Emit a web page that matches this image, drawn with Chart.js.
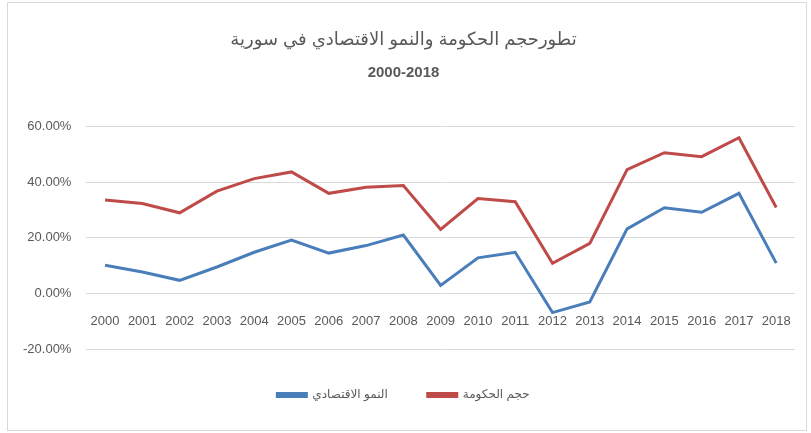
<!DOCTYPE html>
<html>
<head>
<meta charset="utf-8">
<script src="https://cdn.jsdelivr.net/npm/chart.js@4.4.0/dist/chart.umd.min.js"></script>
<style>
  body { margin: 0; background: #fff; }
  #frame { position: absolute; left: 7px; top: 2px; width: 798px; height: 427px; border: 1px solid #d9d9d9; }
  #wrap { position: absolute; left: 0; top: 0; width: 811px; height: 433px; }
</style>
</head>
<body>
<div id="frame"></div>
<div id="wrap"><canvas id="chart"></canvas></div>
<script>
// years on the category axis
const years = ['2000', '2001', '2002', '2003', '2004', '2005', '2006', '2007', '2008', '2009',
  '2010', '2011', '2012', '2013', '2014', '2015', '2016', '2017', '2018'];

// values, in percent
const growth = [10.1, 7.7, 4.7, 9.5, 14.8, 19.2, 14.5, 17.2, 21.0, 2.9,
  12.8, 14.8, -6.9, -3.1, 23.2, 30.8, 29.2, 36.0, 10.9];
const govSize = [33.6, 32.3, 29.0, 36.8, 41.3, 43.7, 36.0, 38.2, 38.8, 23.0,
  34.1, 33.0, 10.8, 18.0, 44.5, 50.6, 49.2, 56.0, 30.9];

const yTicks = [-20, 0, 20, 40, 60];

const titleText = 'تطورحجم الحكومة والنمو الاقتصادي في سورية';
const subtitleText = '2000-2018';
const growthLabel = 'النمو الاقتصادي';
const govLabel = 'حجم الحكومة';

const baseFont = "'Liberation Sans', 'DejaVu Sans', sans-serif";
const grey = '#595959';

document.addEventListener('DOMContentLoaded', () => {
  const ctx = document.getElementById('chart').getContext('2d');

  new Chart(ctx, {
    type: 'line',
    data: {
      labels: years,
      datasets: [{
        label: growthLabel,
        data: growth,
        borderColor: '#4a7ebb',
        backgroundColor: '#4a7ebb',
        borderWidth: 3,
        pointRadius: 0,
        tension: 0
      }, {
        label: govLabel,
        data: govSize,
        borderColor: '#be4b48',
        backgroundColor: '#be4b48',
        borderWidth: 3,
        pointRadius: 0,
        tension: 0
      }]
    },
    options: {
      responsive: true,
      maintainAspectRatio: false,
      animation: false,
      layout: { padding: { left: 8, right: 12, top: 0, bottom: 22 } },
      scales: {
        x: {
          position: { y: 0 },
          offset: true,
          grid: { display: false, drawTicks: false },
          border: { display: true, color: '#d9d9d9', width: 1 },
          ticks: {
            color: grey,
            font: { family: baseFont, size: 13 },
            padding: 20,
            maxRotation: 0,
            autoSkip: false
          }
        },
        y: {
          min: -20,
          max: 60,
          afterBuildTicks: (axis) => {
            axis.ticks = yTicks.map(v => ({ value: v }));
          },
          grid: { color: '#d9d9d9', drawTicks: false },
          border: { display: false },
          ticks: {
            color: grey,
            font: { family: baseFont, size: 13 },
            padding: 15,
            callback: (v) => v.toFixed(2) + '%'
          }
        }
      },
      plugins: {
        title: {
          display: true,
          text: titleText,
          color: grey,
          font: { family: baseFont, size: 18, weight: 'normal' },
          padding: { top: 29, bottom: 5 }
        },
        subtitle: {
          display: true,
          text: subtitleText,
          color: grey,
          font: { family: baseFont, size: 15, weight: 'bold' },
          padding: { top: 8, bottom: 45 }
        },
        legend: {
          position: 'bottom',
          labels: {
            color: grey,
            font: { family: baseFont, size: 12 },
            boxWidth: 29,
            boxHeight: 3,
            padding: 40
          }
        },
        tooltip: { enabled: false }
      }
    }
  });
});
</script>
</body>
</html>
